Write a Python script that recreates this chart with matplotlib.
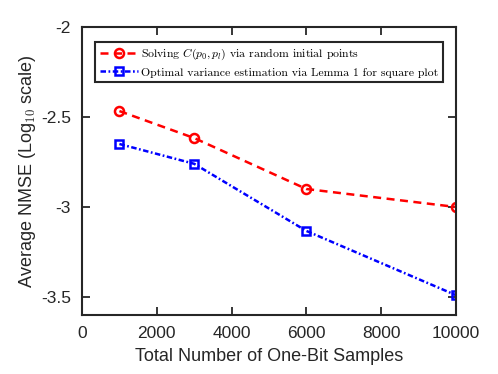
import numpy as np
import matplotlib
matplotlib.use("Agg")
import matplotlib.pyplot as plt

# data
samples = [1000, 3000, 6000, 10000]
nmse_random = [-2.467, -2.617, -2.9, -3.0]
nmse_lemma = [-2.65, -2.76, -3.133, -3.49]

label_random = r"Solving $C(p_0,p_l)$ via random initial points"
label_lemma = "Optimal variance estimation via Lemma 1 for square plot"

plt.rcParams['font.family'] = ['Liberation Sans', 'DejaVu Sans']
plt.rcParams['mathtext.fontset'] = 'cm'

fig = plt.figure(figsize=(4.98, 3.74), dpi=100)
ax = fig.add_axes([82/498, 1-315/374, (456-82)/498, (315-27)/374])

ax.plot(samples, nmse_random, color='red', linestyle=(0, (3.2, 2.2)), linewidth=1.8,
        marker='o', markersize=6.5, markerfacecolor='none', markeredgewidth=1.8,
        label=label_random)
ax.plot(samples, nmse_lemma, color='blue', linestyle=(0, (2.2, 1.0, 0.7, 1.0)), linewidth=1.8,
        marker='s', markersize=5.5, markerfacecolor='none', markeredgewidth=1.8,
        label=label_lemma)

ax.set_xlim(0, 10000)
ax.set_ylim(-3.6, -2)
ax.set_xticks([0, 2000, 4000, 6000, 8000, 10000])
ax.set_yticks([-3.5, -3, -2.5, -2])
ax.set_yticklabels(['-3.5', '-3', '-2.5', '-2'])
ax.tick_params(direction='in', length=6, width=1.3, top=True, right=True,
               labelsize=12.5, colors='0.15', pad=8)
for s in ax.spines.values():
    s.set_linewidth(1.5)
    s.set_color('0.15')

ax.set_xlabel('Total Number of One-Bit Samples', fontsize=13, color='0.15', labelpad=5)
ax.set_ylabel(r'Average NMSE (Log$_{10}$ scale)', fontsize=13, color='0.15', labelpad=2)

leg = ax.legend(loc='upper left', bbox_to_anchor=(0.035, 0.948),
                prop={'family': 'cmr10', 'size': 8.5}, frameon=True,
                fancybox=False, edgecolor='0.15', framealpha=1, handlelength=3.2,
                handletextpad=0.3, borderpad=0.4, labelspacing=0.45,
                borderaxespad=0)
leg.get_frame().set_linewidth(1.5)

fig.savefig('out.png', dpi=100)
